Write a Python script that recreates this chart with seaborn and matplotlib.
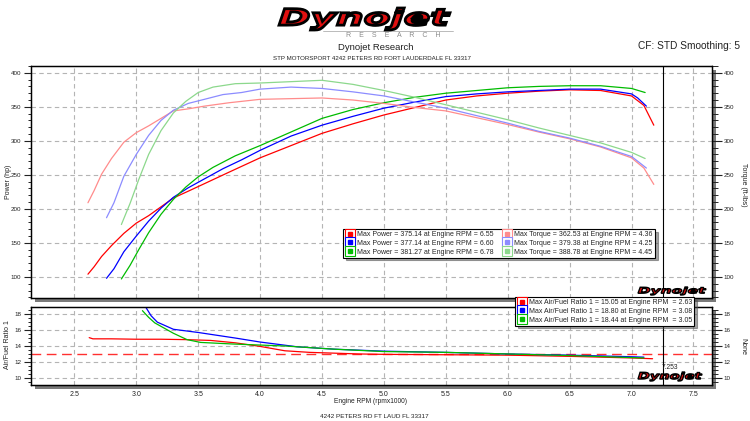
import pandas as pd
import matplotlib
matplotlib.use('Agg')
import matplotlib.pyplot as plt
import seaborn as sns
from matplotlib.lines import Line2D
from matplotlib.patches import Rectangle, PathPatch
from matplotlib.legend_handler import HandlerTuple
from matplotlib.ticker import MultipleLocator
from matplotlib.textpath import TextPath
from matplotlib.font_manager import FontProperties
from matplotlib.transforms import Affine2D

# run 1 (red)
rpm_red = [2.61, 2.66, 2.72, 2.80, 2.90, 3.00, 3.10, 3.20, 3.30, 3.42, 3.55, 3.75, 4.00, 4.25, 4.50,
           4.75, 5.00, 5.25, 5.50, 5.75, 6.00, 6.25, 6.50, 6.75, 7.00, 7.10, 7.18]
hp_red = [104, 115, 130, 146, 164, 179, 190, 203, 216, 226, 237, 254, 275, 293, 311,
          325, 338, 349, 360, 366, 370, 373, 375, 374, 366, 352, 323]
tq_red = [209, 227, 251, 274, 298, 312, 322, 333, 344, 347, 351, 356, 361, 362, 363,
          360, 355, 349, 344, 334, 324, 313, 303, 291, 275, 260, 236]

# run 2 (blue)
rpm_blue = [2.76, 2.82, 2.90, 3.00, 3.10, 3.20, 3.30, 3.42, 3.55, 3.70, 3.85, 4.00, 4.25, 4.50,
            4.75, 5.00, 5.25, 5.50, 5.75, 6.00, 6.25, 6.50, 6.75, 7.00, 7.05, 7.12]
hp_blue = [98, 112, 137, 160, 182, 201, 217, 231, 244, 259, 272, 286, 307, 323,
           336, 348, 357, 365, 369, 372, 374, 376, 376, 369, 363, 351]
tq_blue = [187, 209, 248, 280, 308, 330, 345, 355, 361, 368, 371, 376, 379, 377,
           372, 366, 357, 348, 337, 326, 314, 304, 292, 277, 270, 260]

# run 3 (green)
rpm_green = [2.88, 2.95, 3.02, 3.10, 3.20, 3.30, 3.40, 3.50, 3.62, 3.80, 4.00, 4.25, 4.50,
             4.75, 5.00, 5.25, 5.50, 5.75, 6.00, 6.25, 6.50, 6.75, 7.00, 7.11]
hp_green = [97, 117, 140, 165, 192, 214, 232, 247, 261, 278, 293, 313, 333,
            346, 356, 364, 370, 374, 378, 380, 381, 381, 377, 371]
tq_green = [177, 208, 243, 280, 315, 341, 358, 371, 379, 384, 385, 387, 389,
            383, 374, 364, 353, 342, 331, 319, 308, 297, 283, 274]

# air/fuel ratio
afr_rpm_red = [2.62, 2.65, 2.80, 3.00, 3.20, 3.40, 3.60, 3.80, 4.00, 4.20, 4.40, 4.60, 4.80, 5.00,
               5.50, 6.00, 6.50, 7.00, 7.17]
afr_red = [15.05, 14.9, 14.9, 14.85, 14.85, 14.8, 14.7, 14.4, 13.95, 13.4, 13.2, 13.1, 13.0, 12.95,
           12.9, 12.85, 12.7, 12.5, 12.4]
afr_rpm_blue = [3.08, 3.12, 3.17, 3.30, 3.50, 3.80, 4.00, 4.30, 4.60, 5.00, 5.50, 6.00, 6.50, 7.00, 7.10]
afr_blue = [18.8, 17.8, 17.0, 16.1, 15.7, 15.0, 14.5, 13.9, 13.6, 13.35, 13.2, 13.0, 12.85, 12.65, 12.6]
afr_rpm_green = [3.05, 3.10, 3.15, 3.30, 3.41, 3.52, 3.78, 4.20, 4.60, 5.00, 5.50, 6.00, 6.50, 7.00, 7.10]
afr_green = [18.44, 17.6, 16.9, 15.6, 14.8, 14.45, 14.25, 14.0, 13.6, 13.3, 13.2, 13.0, 12.8, 12.55, 12.5]

power_labels = ['Max Power = 375.14 at Engine RPM = 6.55',
                'Max Power = 377.14 at Engine RPM = 6.60',
                'Max Power = 381.27 at Engine RPM = 6.78']
torque_labels = ['Max Torque = 362.53 at Engine RPM = 4.36',
                 'Max Torque = 379.38 at Engine RPM = 4.25',
                 'Max Torque = 388.78 at Engine RPM = 4.45']
afr_labels = ['Max Air/Fuel Ratio 1 = 15.05 at Engine RPM  = 2.63',
              'Max Air/Fuel Ratio 1 = 18.80 at Engine RPM  = 3.08',
              'Max Air/Fuel Ratio 1 = 18.44 at Engine RPM  = 3.05']
cursor_rpm = 7.253
afr_target = 13.0

strong = ['#ff0000', '#0000ff', '#00bb00']
light = ['#ff8c8c', '#8c8cff', '#8cd88c']

sns.set_style('white')
plt.rcParams['font.family'] = ['Liberation Sans', 'DejaVu Sans']

W, H = 750, 421
fig = plt.figure(figsize=(7.5, 4.21), dpi=100)


def box(x0, y0, x1, y1):
    return [x0 / W, 1 - y1 / H, (x1 - x0) / W, (y1 - y0) / H]


# drop shadows behind both panels
for (x0, y0, x1, y1) in [(31, 66, 712, 298), (31, 307, 712, 385)]:
    fig.add_artist(Rectangle((x0 / W + 4 / W, 1 - (y1 + 4) / H), (x1 - x0) / W, (y1 - y0) / H,
                             transform=fig.transFigure, fc='#7a7a7a', ec='none', zorder=-1))

ax1 = fig.add_axes(box(31, 66, 712, 298))
ax2 = fig.add_axes(box(31, 307, 712, 385), sharex=ax1)
ax1r = ax1.twinx()
ax2r = ax2.twinx()

runs = [
    pd.DataFrame({'rpm': rpm_red, 'hp': hp_red, 'tq': tq_red}),
    pd.DataFrame({'rpm': rpm_blue, 'hp': hp_blue, 'tq': tq_blue}),
    pd.DataFrame({'rpm': rpm_green, 'hp': hp_green, 'tq': tq_green}),
]
afr_runs = [
    pd.DataFrame({'rpm': afr_rpm_red, 'afr': afr_red}),
    pd.DataFrame({'rpm': afr_rpm_blue, 'afr': afr_blue}),
    pd.DataFrame({'rpm': afr_rpm_green, 'afr': afr_green}),
]

for i, df in enumerate(runs):
    sns.lineplot(data=df, x='rpm', y='tq', ax=ax1r, color=light[i], lw=0.9, estimator=None, sort=False)
for i, df in enumerate(runs):
    sns.lineplot(data=df, x='rpm', y='hp', ax=ax1, color=strong[i], lw=0.9, estimator=None, sort=False)
for i, df in enumerate(afr_runs):
    sns.lineplot(data=df, x='rpm', y='afr', ax=ax2, color=strong[i], lw=0.9, estimator=None, sort=False)

ax2.axhline(afr_target, color='#ff3030', lw=1.0, ls=(0, (7, 4)), zorder=1)
for ax in (ax1, ax2):
    ax.axvline(cursor_rpm, color='black', lw=0.8, zorder=5)

ax1.set_xlim(2.15, 7.65)
for ax in (ax1, ax1r):
    ax.set_yticks([100, 150, 200, 250, 300, 350, 400])
    ax.yaxis.set_minor_locator(MultipleLocator(10))
    ax.set_ylim(69, 410)
for ax in (ax2, ax2r):
    ax.set_yticks([10, 12, 14, 16, 18])
    ax.yaxis.set_minor_locator(MultipleLocator(0.5))
    ax.set_ylim(9.1, 18.9)

ax2.xaxis.set_major_locator(MultipleLocator(0.5))
ax2.xaxis.set_minor_locator(MultipleLocator(0.1))

grid_kw = dict(color='#b4b4b4', lw=0.8, ls=(0, (4, 3)))
for ax in (ax1, ax2):
    ax.grid(True, which='major', **grid_kw)
    ax.grid(False, which='minor')
    ax.set_xlabel('')
    ax.set_ylabel('')
for ax in (ax1r, ax2r):
    ax.grid(False)
    ax.set_ylabel('')

ax1.tick_params(axis='x', which='both', length=0, labelbottom=False)
ax2.tick_params(axis='x', which='major', direction='in', length=6, width=0.8, labelsize=5, pad=4, colors='#222222')
ax2.tick_params(axis='x', which='minor', direction='in', length=3, width=0.8)
for ax in (ax1, ax2):
    ax.tick_params(axis='y', which='major', direction='out', length=5, width=0.8, labelsize=4.5, pad=2,
                   left=True, colors='#222222')
    ax.tick_params(axis='y', which='minor', direction='out', length=2.5, width=0.7, left=True)
for ax in (ax1r, ax2r):
    ax.tick_params(axis='y', which='major', direction='out', length=7, width=0.8, labelsize=4.5, pad=1.5,
                   right=True, colors='#222222')
    ax.tick_params(axis='y', which='minor', direction='out', length=4, width=0.7, right=True)
    ax.tick_params(axis='x', which='both', length=0)

for ax in (ax1, ax2, ax1r, ax2r):
    for s in ax.spines.values():
        s.set_color('black')
        s.set_linewidth(0.9)

ax2.text(cursor_rpm - 0.01, 11.3, '7.253', fontsize=4.8, color='#222222', ha='left', va='center', zorder=6)

# legends


def marker(c):
    return (Line2D([], [], ls='none', marker='s', ms=6.5, mfc='white', mec=c, mew=0.8),
            Line2D([], [], ls='none', marker='s', ms=2.6, mfc=c, mec=c))


leg_kw = dict(handler_map={tuple: HandlerTuple(ndivide=1, pad=0)}, loc='upper left', fontsize=5,
              frameon=True, fancybox=False, shadow=True, edgecolor='black', borderpad=0.3,
              labelspacing=0.25, handlelength=1.3, handletextpad=0.4, columnspacing=1.3,
              borderaxespad=0, framealpha=1)
handles = [marker(c) for c in strong] + [marker(c) for c in light]
leg1 = fig.legend(handles, power_labels + torque_labels, ncol=2,
                  bbox_to_anchor=(343 / W, 1 - 229 / H), **leg_kw)
leg2 = fig.legend([marker(c) for c in strong], afr_labels, ncol=1,
                  bbox_to_anchor=(515 / W, 1 - 297 / H), **leg_kw)
for leg in (leg1, leg2):
    leg.get_frame().set_linewidth(0.8)

# labels and header
fig.text(8 / W, 1 - 182 / H, 'Power (hp)', rotation=90, fontsize=5, ha='center', va='center', color='#222222')
fig.text(743 / W, 1 - 185 / H, 'Torque (ft-lbs)', rotation=270, fontsize=5, ha='center', va='center', color='#222222')
fig.text(8 / W, 1 - 345 / H, 'Air/Fuel Ratio 1', rotation=90, fontsize=5, ha='center', va='center', color='#222222')
fig.text(743 / W, 1 - 347 / H, 'None', rotation=270, fontsize=5, ha='center', va='center', color='#222222')
fig.text(371 / W, 1 - 401.5 / H, 'Engine RPM (rpmx1000)', fontsize=4.8, ha='center', va='center', color='#222222')
fig.text(374 / W, 1 - 416 / H, '4242 PETERS RD FT LAUD FL 33317', fontsize=4.6, ha='center', va='center', color='#222222')
fig.text(376 / W, 1 - 47 / H, 'Dynojet Research', fontsize=6.8, ha='center', va='center', color='#222222')
fig.text(740 / W, 1 - 46 / H, 'CF: STD Smoothing: 5', fontsize=7.3, ha='right', va='center', color='#222222')
fig.text(372 / W, 1 - 58 / H, 'STP MOTORSPORT 4242 PETERS RD FORT LAUDERDALE FL 33317', fontsize=4.4,
         ha='center', va='center', color='#222222')
fig.text(393 / W, 1 - 35.5 / H, 'R    E    S    E    A    R    C    H', fontsize=5, ha='center', va='center',
         color='#8a8a8a')
fig.add_artist(Line2D([323 / W, 453 / W], [1 - 31 / H, 1 - 31 / H], transform=fig.transFigure, color='#b0b0b0', lw=0.6))


def logo(x0, y0, x1, y1, lw):
    tp = TextPath((0, 0), 'Dynojet', size=1, prop=FontProperties(family='DejaVu Sans', weight='bold', style='italic'))
    ext = tp.get_extents()
    sx = (x1 - x0) / ext.width / W
    sy = (y1 - y0) / ext.height / H
    tr = Affine2D().translate(-ext.x0, -ext.y0).scale(sx, sy).translate(x0 / W, 1 - y1 / H) + fig.transFigure
    fig.add_artist(PathPatch(tp, transform=tr, fc='#e01010', ec='black', lw=lw, zorder=10))


logo(279, 8, 450, 30, 2.0)
logo(638, 287, 706, 295, 1.0)
logo(638, 372, 702, 381, 1.0)

fig.savefig('out.png', dpi=100)
